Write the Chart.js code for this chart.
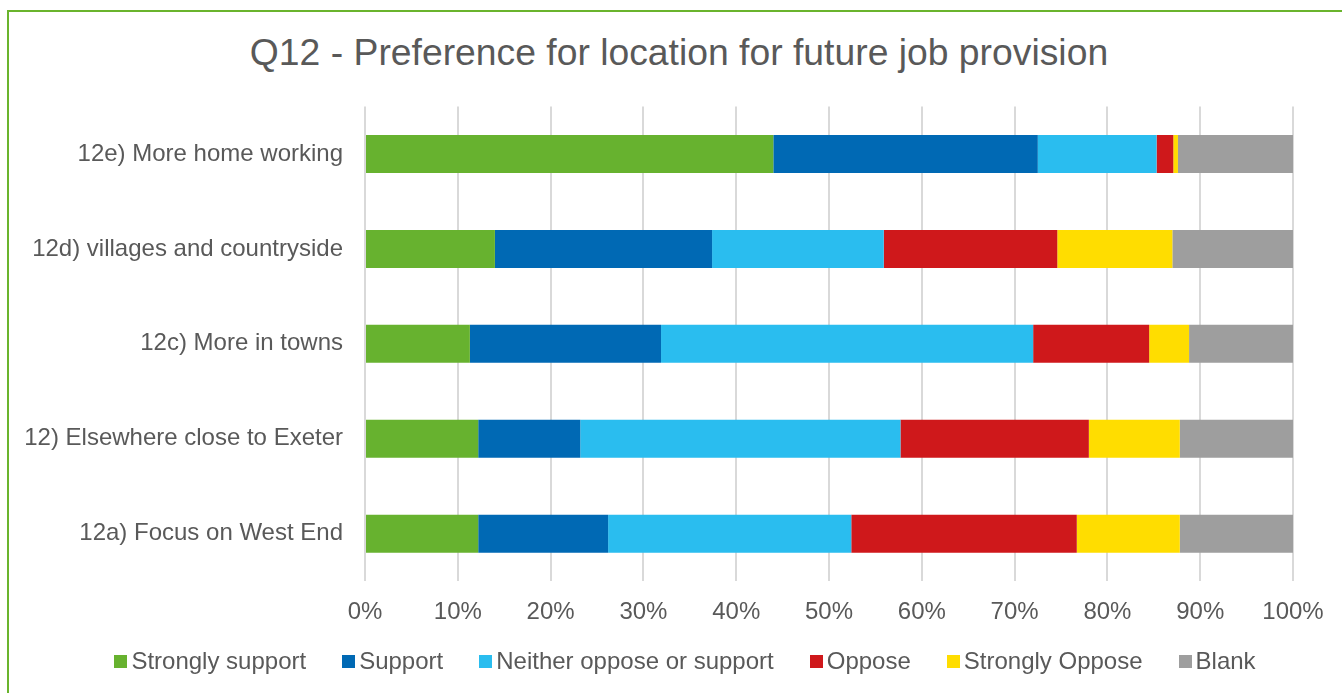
<!DOCTYPE html>
<html>
<head>
<meta charset="utf-8">
<script src="https://cdn.jsdelivr.net/npm/chart.js@4.4.1/dist/chart.umd.min.js"></script>
<style>
  html, body { margin: 0; padding: 0; background: #fff; overflow: hidden; }
  body { width: 1342px; height: 693px; position: relative; font-family: "Liberation Sans", Arial, sans-serif; color: #595959; }
  .frame { position: absolute; left: 7px; top: 10px; width: 1400px; height: 760px; border: 2px solid #6ab42d; box-sizing: border-box; pointer-events: none; }
  .wrap { position: absolute; left: 0; top: 0; width: 1342px; height: 693px; }
  h1 { position: absolute; left: 0; top: 30px; width: 1358px; margin: 0; text-align: center; font-size: 37.3px; line-height: 44px; font-weight: normal; white-space: nowrap; }
  #legend { position: absolute; left: 0; top: 647px; width: 1370px; display: flex; justify-content: center; font-size: 24px; line-height: 28px; }
  .legend-item { display: flex; align-items: center; margin: 0 18px; white-space: nowrap; }
  .legend-box { width: 13px; height: 13px; margin-right: 4px; }
</style>
</head>
<body>
<div class="frame"></div>
<h1>Q12 - Preference for location for future job provision</h1>
<div class="wrap"><canvas id="chart" width="1342" height="693"></canvas></div>
<div id="legend"></div>
<script>
const categories = [
  '12e) More home working',
  '12d) villages and countryside',
  '12c) More in towns',
  '12) Elsewhere close to Exeter',
  '12a) Focus on West End',
];

// share of responses (%) per category, top to bottom
const stronglySupport = [44.0, 14.0, 11.3, 12.2, 12.2];
const support = [28.5, 23.4, 20.6, 11.0, 14.0];
const neither = [12.8, 18.5, 40.1, 34.5, 26.2];
const oppose = [1.8, 18.7, 12.5, 20.3, 24.3];
const stronglyOppose = [0.5, 12.4, 4.3, 9.8, 11.1];
const blank = [12.4, 13.0, 11.2, 12.2, 12.2];

const xTicks = [0, 10, 20, 30, 40, 50, 60, 70, 80, 90, 100];

const FONT = '"Liberation Sans", Arial, sans-serif';
const TEXT = '#595959';

const series = [
  { label: 'Strongly support', data: stronglySupport, color: '#67b22f' },
  { label: 'Support', data: support, color: '#0069b4' },
  { label: 'Neither oppose or support', data: neither, color: '#2abdef' },
  { label: 'Oppose', data: oppose, color: '#cf181b' },
  { label: 'Strongly Oppose', data: stronglyOppose, color: '#ffdd00' },
  { label: 'Blank', data: blank, color: '#9e9e9e' },
];

const chart = new Chart(document.getElementById('chart'), {
  type: 'bar',
  data: {
    labels: categories,
    datasets: series.map((s) => ({
      label: s.label,
      data: s.data,
      backgroundColor: s.color,
      borderWidth: 0,
      barPercentage: 0.4,
      categoryPercentage: 1,
    })),
  },
  options: {
    indexAxis: 'y',
    responsive: false,
    animation: false,
    layout: { padding: { top: 106.5, left: 0, right: 49, bottom: 50 } },
    plugins: {
      legend: { display: false },
      tooltip: { enabled: false },
    },
    scales: {
      x: {
        stacked: true,
        min: 0,
        max: 100,
        afterBuildTicks: (scale) => {
          scale.ticks = xTicks.map((v) => ({ value: v }));
        },
        ticks: {
          color: TEXT,
          font: { family: FONT, size: 24 },
          padding: 16.5,
          maxRotation: 0,
          callback: (v) => v + '%',
        },
        grid: { color: '#d9d9d9', lineWidth: 2, drawTicks: false },
        border: { display: false },
      },
      y: {
        stacked: true,
        // fixed axis width so the plot starts at the same x whatever the label widths
        afterFit: (scale) => {
          scale.width = 365;
        },
        ticks: {
          color: TEXT,
          font: { family: FONT, size: 24 },
          padding: 22,
        },
        grid: { display: false, drawTicks: false },
        border: { display: false },
      },
    },
  },
});

function renderLegend() {
  const container = document.getElementById('legend');
  container.innerHTML = '';
  chart.data.datasets.forEach((ds) => {
    const item = document.createElement('div');
    item.className = 'legend-item';
    item.innerHTML = `<span class="legend-box" style="background:${ds.backgroundColor}"></span><span>${ds.label}</span>`;
    container.appendChild(item);
  });
}

renderLegend();
</script>
</body>
</html>
